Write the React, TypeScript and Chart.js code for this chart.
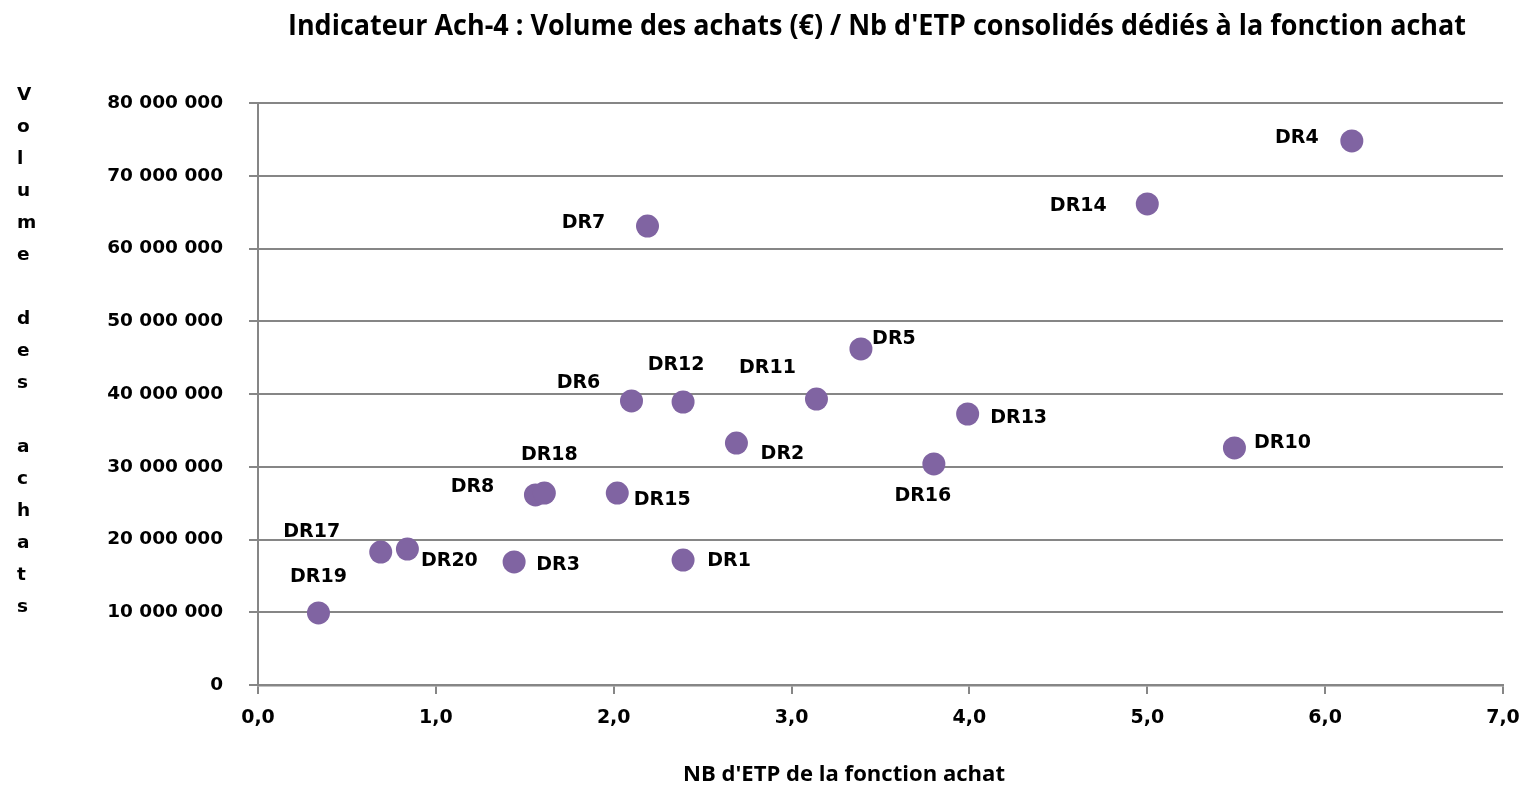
import React, { useEffect, useRef } from "react";
import { Chart, registerables } from "chart.js";

Chart.register(...registerables);

// ---- Data ----
const names = [
  "DR1", "DR2", "DR3", "DR4", "DR5", "DR6", "DR7", "DR8", "DR10", "DR11",
  "DR12", "DR13", "DR14", "DR15", "DR16", "DR17", "DR18", "DR19", "DR20",
];
const etp = [
  2.39, 2.69, 1.44, 6.15, 3.39, 2.1, 2.19, 1.56, 5.49, 3.14,
  2.39, 3.99, 5.0, 2.02, 3.8, 0.69, 1.61, 0.34, 0.84,
];
const volumes = [
  17180000, 33260000, 16910000, 74780000, 46190000, 39040000, 63090000, 26120000, 32580000, 39310000,
  38900000, 37250000, 66120000, 26390000, 30380000, 18280000, 26390000, 9900000, 18690000,
];
const xTickValues = [0, 1, 2, 3, 4, 5, 6, 7];
const yTickValues = [0, 10000000, 20000000, 30000000, 40000000, 50000000, 60000000, 70000000, 80000000];

const chartTitle = "Indicateur Ach-4 : Volume des achats (€) / Nb d'ETP consolidés dédiés à la fonction achat";
const xTitle = "NB d'ETP de la fonction achat";
const yTitle = "Volume des achats";

// label placement (pixel offset of each label from its point), in the same order as names
const labelOffsets: [number, number][] = [
  [46, 1], [46, 11], [44, 3], [-55, -3], [33, -10], [-53, -18], [-64, -3], [-63, -8], [48, -5], [-49, -31],
  [-7, -37], [51, 4], [-69, 2], [45, 7], [-11, 32], [-69, -20], [5, -38], [0, -36], [42, 12],
];

const TICK_FONT = "DejaVu Sans";
const GRID = "#868686";

const fmtY = (v: number) => String(Math.round(v)).replace(/\B(?=(\d{3})+(?!\d))/g, " ");
const fmtX = (v: number) => v.toFixed(1).replace(".", ",");

const textPlugin = {
  id: "textPlugin",
  afterDraw(chart: any) {
    const ctx = chart.ctx as CanvasRenderingContext2D;
    ctx.save();
    const drawFit = (text: string, cx: number, baseline: number, size: number, width: number) => {
      ctx.save();
      ctx.font = `bold ${size}px "Open Sans"`;
      ctx.fillStyle = "#000";
      ctx.textBaseline = "alphabetic";
      ctx.textAlign = "center";
      const w = ctx.measureText(text).width;
      const sx = width / w;
      ctx.translate(cx, baseline);
      ctx.scale(sx, 1);
      ctx.fillText(text, 0, 0);
      ctx.restore();
    };
    drawFit(chartTitle, 877, 35, 29, 1178);
    drawFit(xTitle, 844, 781, 21, 322);

    // vertical stacked y title
    ctx.font = `bold 18.5px "${TICK_FONT}"`;
    ctx.fillStyle = "#000";
    ctx.textAlign = "left";
    ctx.textBaseline = "alphabetic";
    const chars = Array.from(yTitle);
    chars.forEach((c, i) => {
      if (c !== " ") ctx.fillText(c, 17, 100 + i * 32);
    });
    ctx.restore();
  },
  afterDatasetsDraw(chart: any) {
    const ctx = chart.ctx as CanvasRenderingContext2D;
    const meta = chart.getDatasetMeta(0);
    ctx.save();
    ctx.font = `bold 19px "${TICK_FONT}"`;
    ctx.fillStyle = "#000";
    ctx.textAlign = "center";
    ctx.textBaseline = "middle";
    meta.data.forEach((pt: any, i: number) => {
      const [dx, dy] = labelOffsets[i];
      ctx.fillText(names[i], pt.x + dx, pt.y + dy);
    });
    ctx.restore();
  },
};

export default function App() {
  const ref = useRef<HTMLCanvasElement | null>(null);
  useEffect(() => {
    if (!ref.current) return;
    const chart = new Chart(ref.current, {
      type: "scatter",
      data: {
        datasets: [
          {
            label: "DR",
            data: etp.map((x, i) => ({ x, y: volumes[i] })),
            backgroundColor: "#8064A2",
            borderWidth: 0,
            pointRadius: 11.5,
            pointHoverRadius: 11.5,
          },
        ],
      },
      options: {
        animation: false,
        responsive: true,
        maintainAspectRatio: false,
        layout: { padding: { top: 103, right: 28, left: 0, bottom: 0 } },
        plugins: {
          legend: { display: false },
          title: { display: false },
          tooltip: { enabled: false },
        },
        scales: {
          x: {
            type: "linear",
            min: 0,
            max: 7,
            afterFit: (s: any) => { s.height = 100; s.paddingRight = 0; s.paddingLeft = 0; },
            afterBuildTicks: (s: any) => { s.ticks = xTickValues.map((v) => ({ value: v })); },
            grid: { drawOnChartArea: false, drawTicks: true, tickLength: 9, color: GRID, lineWidth: 2 },
            border: { display: true, color: GRID, width: 2.5 },
            ticks: {
              font: { family: TICK_FONT, size: 19, weight: "bold" },
              color: "#000",
              padding: 13,
              maxRotation: 0,
              callback: (v: any) => fmtX(Number(v)),
            },
          },
          y: {
            type: "linear",
            min: 0,
            max: 80000000,
            afterFit: (s: any) => { s.width = 258; },
            afterBuildTicks: (s: any) => { s.ticks = yTickValues.map((v) => ({ value: v })); },
            grid: { drawOnChartArea: true, drawTicks: true, tickLength: 9, color: GRID, lineWidth: 2 },
            border: { display: true, color: GRID, width: 2 },
            ticks: {
              font: { family: TICK_FONT, size: 18.5, weight: "bold" },
              color: "#000",
              padding: 26,
              callback: (v: any) => fmtY(Number(v)),
            },
          },
        },
      },
      plugins: [textPlugin],
    });
    return () => chart.destroy();
  }, []);
  return (
    <div style={{ position: "absolute", left: 0, top: 0, width: 1531, height: 785, background: "#fff" }}>
      <canvas ref={ref} />
    </div>
  );
}
